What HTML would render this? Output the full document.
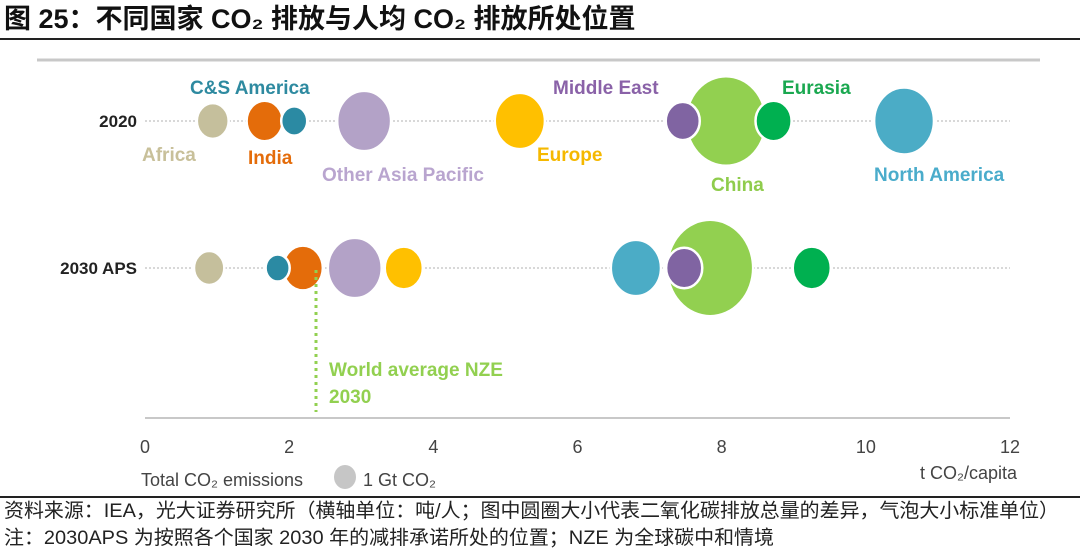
<!DOCTYPE html>
<html><head><meta charset="utf-8"><style>
body{margin:0;width:1080px;height:552px;background:#fff;overflow:hidden;font-family:"Liberation Sans","Noto Sans CJK SC",sans-serif;}
svg text{font-family:"Liberation Sans","Noto Sans CJK SC",sans-serif;}
</style></head><body>
<svg id="chart" width="1080" height="552">
<text x="4" y="28" font-size="27" font-weight="bold" fill="#111">图 25：不同国家 CO₂ 排放与人均 CO₂ 排放所处位置</text>
<line x1="0" y1="39" x2="1080" y2="39" stroke="#222" stroke-width="2"/>
<line x1="37" y1="60" x2="1040" y2="60" stroke="#c8c8c8" stroke-width="3"/>
<line x1="145" y1="418" x2="1010" y2="418" stroke="#c8c8c8" stroke-width="2"/>
<text x="137" y="127" font-size="17" font-weight="bold" text-anchor="end" fill="#222">2020</text>
<text x="137" y="274" font-size="17" font-weight="bold" text-anchor="end" fill="#222">2030 APS</text>
<g id="marks"></g>
<line x1="316" y1="270" x2="316" y2="412" stroke="#92d050" stroke-width="3" stroke-dasharray="3,4"/>
<text x="329" y="376" font-size="19" font-weight="bold" fill="#92d050">World average NZE</text>
<text x="329" y="403" font-size="19" font-weight="bold" fill="#92d050">2030</text>
<g id="ticks"></g>
<text x="141" y="486" font-size="18" fill="#444">Total CO₂ emissions</text>
<ellipse cx="345" cy="477" rx="11" ry="12" fill="#c6c6c6"/>
<text x="363" y="486" font-size="18" fill="#444">1 Gt CO₂</text>
<text x="1017" y="479" font-size="18" fill="#444" text-anchor="end">t CO₂/capita</text>
<line x1="0" y1="497" x2="1080" y2="497" stroke="#222" stroke-width="2"/>
<text x="4" y="517" font-size="19.5" fill="#222" textLength="1055" lengthAdjust="spacingAndGlyphs">资料来源：IEA，光大证券研究所（横轴单位：吨/人；图中圆圈大小代表二氧化碳排放总量的差异，气泡大小标准单位）</text>
<text x="4" y="544" font-size="19.5" fill="#222" textLength="770" lengthAdjust="spacingAndGlyphs">注：2030APS 为按照各个国家 2030 年的减排承诺所处的位置；NZE 为全球碳中和情境</text>
</svg>
<script>
const regions=["Africa","India","C&S America","Other Asia Pacific","Europe","Middle East","China","Eurasia","North America"];
const colors=["#c5bf9c","#e46c0a","#2b8aa3","#b3a2c7","#ffc000","#8064a2","#92d050","#00b050","#4bacc6"];
const perCapita2020=[0.94,1.66,2.07,3.04,5.2,7.46,8.06,8.72,10.53];
const emissions2020=[2.1,2.7,1.4,6.0,5.2,2.4,13.2,2.7,7.4];
const perCapita2030=[0.89,2.19,1.84,2.91,3.59,7.48,7.84,9.25,6.81];
const emissions2030=[1.9,3.3,1.2,6.0,3.0,2.7,15.3,3.0,5.2];
const xTicks=[0,2,4,6,8,10,12];
const x=v=>145+v*(865/12);
const rad=g=>11*Math.sqrt(g);
const ns="http://www.w3.org/2000/svg";
const svg=document.getElementById('chart');
const marks=document.getElementById('marks');
[121,268].forEach((y,i)=>{const l=document.createElementNS(ns,'line');
l.setAttribute('x1',145);l.setAttribute('x2',1010);l.setAttribute('y1',y);l.setAttribute('y2',y);
l.setAttribute('stroke','#d8d8d8');l.setAttribute('stroke-width',2);l.setAttribute('stroke-dasharray','2,2');


marks.appendChild(l);});
function row(pc,em,y,tag){
 const idx=regions.map((_,i)=>i).sort((a,b)=>em[b]-em[a]);
 idx.forEach(i=>{const e=document.createElementNS(ns,'ellipse');
 const r=rad(em[i]);
 e.setAttribute('cx',x(pc[i]));e.setAttribute('cy',y);e.setAttribute('rx',r);e.setAttribute('ry',r*1.12);
 e.setAttribute('fill',colors[i]);e.setAttribute('stroke','#fff');e.setAttribute('stroke-width',2.5);
 
 
 marks.appendChild(e);});
}
row(perCapita2020,emissions2020,121,'2020');
row(perCapita2030,emissions2030,268,'2030');
const labels=[["C&S America",190,94,"#2e8aa0"],["Africa",142,161,"#c8c09a"],["India",248,164,"#e46c0a"],["Other Asia Pacific",322,181,"#b9a5cf"],["Europe",537,161,"#f5b800"],["Middle East",553,94,"#8a62a8"],["Eurasia",782,94,"#1aa850"],["China",711,191,"#8fcc4c"],["North America",874,181,"#4aaccb"]];
labels.forEach(L=>{const t=document.createElementNS(ns,'text');
t.setAttribute('x',L[1]);t.setAttribute('y',L[2]);t.setAttribute('font-size',19);t.setAttribute('font-weight','bold');t.setAttribute('fill',L[3]);t.textContent=L[0];


svg.appendChild(t);});
const tg=document.getElementById('ticks');
xTicks.forEach(v=>{const t=document.createElementNS(ns,'text');
t.setAttribute('x',x(v));t.setAttribute('y',453);t.setAttribute('font-size',18);t.setAttribute('fill','#444');t.setAttribute('text-anchor','middle');t.textContent=v;


tg.appendChild(t);});
</script>
</body></html>
